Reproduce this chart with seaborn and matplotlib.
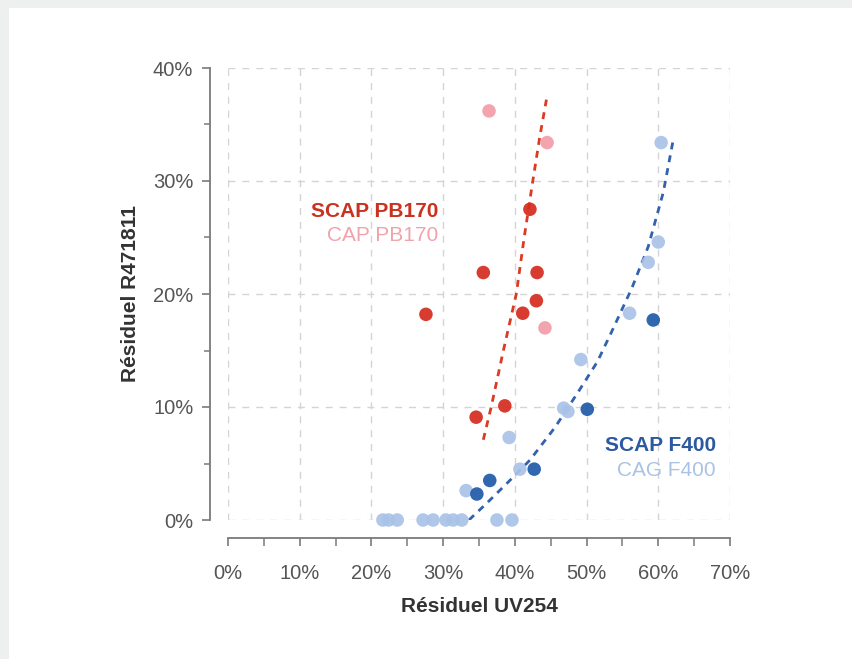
import matplotlib
matplotlib.use("Agg")
import matplotlib.pyplot as plt
from matplotlib.ticker import MultipleLocator, PercentFormatter
from matplotlib.patches import Rectangle
import seaborn as sns
import pandas as pd

# ---- data (fractions) ----
scap_pb170_x = [0.276, 0.356, 0.421, 0.431, 0.430, 0.411, 0.346, 0.386]
scap_pb170_y = [0.182, 0.219, 0.275, 0.219, 0.194, 0.183, 0.091, 0.101]

cap_pb170_x = [0.364, 0.445, 0.442]
cap_pb170_y = [0.362, 0.334, 0.170]

scap_f400_x = [0.593, 0.501, 0.427, 0.365, 0.347]
scap_f400_y = [0.177, 0.098, 0.045, 0.035, 0.023]

cag_f400_x = [0.604, 0.600, 0.586, 0.560, 0.492, 0.468, 0.474, 0.392, 0.407, 0.332,
              0.216, 0.224, 0.236, 0.272, 0.286, 0.304, 0.314, 0.326, 0.375, 0.396]
cag_f400_y = [0.334, 0.246, 0.228, 0.183, 0.142, 0.099, 0.096, 0.073, 0.045, 0.026,
              0.0, 0.0, 0.0, 0.0, 0.0, 0.0, 0.0, 0.0, 0.0, 0.0]

trend_pb170_x = [0.356, 0.367, 0.384, 0.402, 0.413, 0.425, 0.435, 0.444]
trend_pb170_y = [0.071, 0.100, 0.150, 0.200, 0.250, 0.300, 0.340, 0.372]

trend_f400_x = [0.336, 0.361, 0.393, 0.421, 0.456, 0.487, 0.515, 0.536, 0.563, 0.586, 0.607, 0.621]
trend_f400_y = [0.000, 0.015, 0.035, 0.053, 0.082, 0.112, 0.140, 0.168, 0.205, 0.242, 0.290, 0.337]

x_ticks = [0.0, 0.1, 0.2, 0.3, 0.4, 0.5, 0.6, 0.7]
y_ticks = [0.0, 0.1, 0.2, 0.3, 0.4]

# ---- colours ----
c_dark_red = "#d52b1e"
c_pink = "#f29ea8"
c_dark_blue = "#1f5aa8"
c_light_blue = "#a9c3e8"
c_line_red = "#dc3a22"
c_line_blue = "#3261ad"

sns.set_theme(style="white")
plt.rcParams["font.family"] = ["Liberation Sans", "DejaVu Sans"]

fig = plt.figure(figsize=(8.53, 6.59), dpi=100)
fig.patch.set_facecolor("white")
# light grey frame bands (top and left)
fig.patches.append(Rectangle((0, 1 - 8 / 659), 1, 8 / 659, transform=fig.transFigure,
                             facecolor="#eef0ef", edgecolor="none", zorder=0))
fig.patches.append(Rectangle((0, 0), 9 / 853, 1, transform=fig.transFigure,
                             facecolor="#eef0ef", edgecolor="none", zorder=0))

ax = fig.add_axes([228 / 853, 1 - 520 / 659, 502 / 853, 452 / 659])

pts = pd.concat([
    pd.DataFrame({"x": cag_f400_x, "y": cag_f400_y, "g": "CAG F400"}),
    pd.DataFrame({"x": cap_pb170_x, "y": cap_pb170_y, "g": "CAP PB170"}),
    pd.DataFrame({"x": scap_f400_x, "y": scap_f400_y, "g": "SCAP F400"}),
    pd.DataFrame({"x": scap_pb170_x, "y": scap_pb170_y, "g": "SCAP PB170"}),
], ignore_index=True)
palette = {"CAG F400": c_light_blue, "CAP PB170": c_pink,
           "SCAP F400": c_dark_blue, "SCAP PB170": c_dark_red}

trend_pb = pd.DataFrame({"x": trend_pb170_x, "y": trend_pb170_y})
trend_f4 = pd.DataFrame({"x": trend_f400_x, "y": trend_f400_y})
sns.lineplot(data=trend_pb, x="x", y="y", ax=ax, sort=False, color=c_line_red,
             linewidth=2.0, linestyle=(0, (2.5, 2.2)), zorder=2, estimator=None)
sns.lineplot(data=trend_f4, x="x", y="y", ax=ax, sort=False, color=c_line_blue,
             linewidth=2.0, linestyle=(0, (2.5, 2.2)), zorder=2, estimator=None)

for g in ["CAG F400", "CAP PB170", "SCAP F400", "SCAP PB170"]:
    sub = pts[pts["g"] == g]
    sns.scatterplot(data=sub, x="x", y="y", ax=ax, color=palette[g], s=95,
                    edgecolor="none", alpha=0.92, clip_on=False, zorder=3, legend=False)

ax.set_xlim(0, 0.7)
ax.set_ylim(0, 0.4)
ax.set_xticks(x_ticks)
ax.set_yticks(y_ticks)
ax.xaxis.set_minor_locator(MultipleLocator(0.05))
ax.yaxis.set_minor_locator(MultipleLocator(0.05))
ax.xaxis.set_major_formatter(PercentFormatter(1.0, decimals=0))
ax.yaxis.set_major_formatter(PercentFormatter(1.0, decimals=0))

ax.grid(True, which="major", linestyle=(0, (5, 5)), color="#d4d4d4", linewidth=1.0)
ax.set_axisbelow(True)

for s in ["top", "right"]:
    ax.spines[s].set_visible(False)
for s in ["left", "bottom"]:
    ax.spines[s].set_position(("outward", 13))
    ax.spines[s].set_color("#7a7a7a")
    ax.spines[s].set_linewidth(1.3)

ax.tick_params(axis="both", which="both", bottom=True, left=True, top=False, right=False)
ax.tick_params(axis="both", which="major", direction="out", length=6, width=1.2,
               color="#7a7a7a", labelsize=14.5, labelcolor="#555555")
ax.tick_params(axis="both", which="minor", direction="out", length=4, width=1.1,
               color="#7a7a7a")
ax.tick_params(axis="x", which="major", pad=13)
ax.tick_params(axis="y", which="major", pad=6)
ax.tick_params(axis="x", which="minor", length=6)

ax.set_xlabel("Résiduel UV254", fontsize=15, fontweight="bold", color="#333333", labelpad=10)
ax.set_ylabel("Résiduel R471811", fontsize=15, fontweight="bold", color="#333333", labelpad=9)

ax.text(0.293, 0.273, "SCAP PB170", ha="right", va="center", fontsize=15,
        fontweight="bold", color="#c9321f")
ax.text(0.293, 0.252, "CAP PB170", ha="right", va="center", fontsize=15,
        color="#f0a3ab")
ax.text(0.680, 0.066, "SCAP F400", ha="right", va="center", fontsize=15,
        fontweight="bold", color="#2b5aa0")
ax.text(0.680, 0.044, "CAG F400", ha="right", va="center", fontsize=15,
        color="#a9c3e6")

fig.savefig("out.png", dpi=100)
